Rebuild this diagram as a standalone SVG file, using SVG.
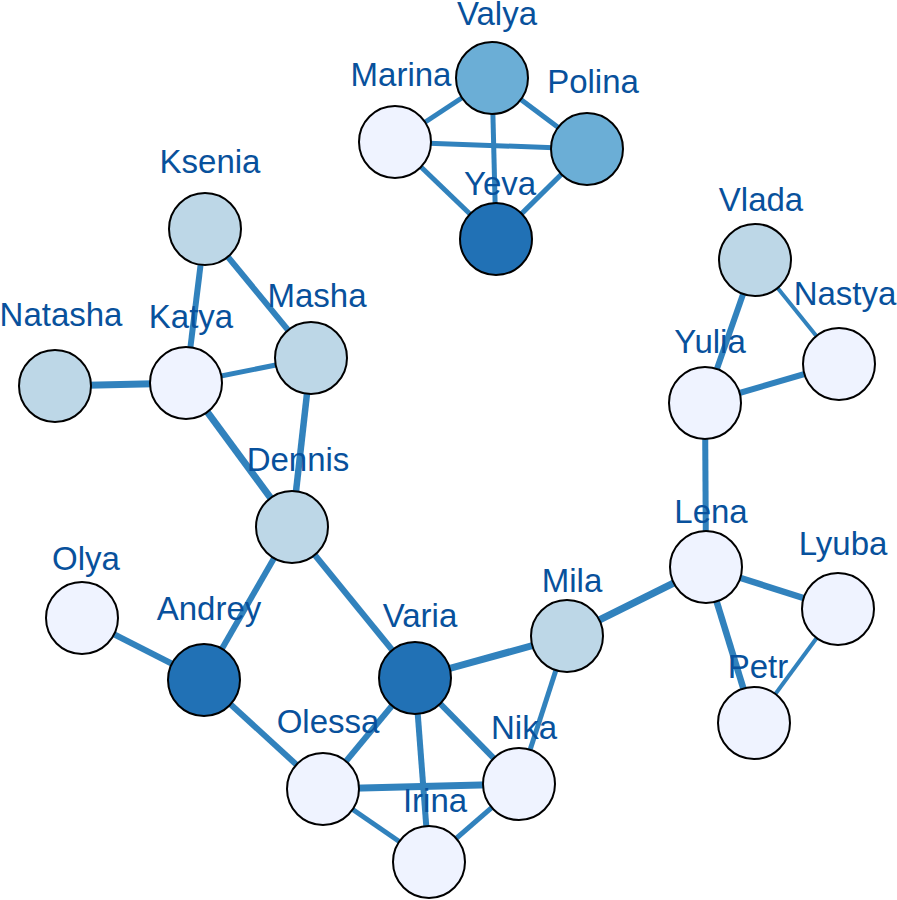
<svg xmlns="http://www.w3.org/2000/svg" width="897" height="900" viewBox="0 0 897 900">
<style>
.e{stroke:#3182bd;stroke-linecap:butt;fill:none}
.n{stroke:#000;stroke-width:2}
.c1{fill:#eff3ff}.c2{fill:#bdd7e7}.c3{fill:#6baed6}.c4{fill:#2171b5}
.l{font-family:"Liberation Sans",Arial,sans-serif;font-size:33px;fill:#08519c;text-anchor:middle}
</style>
<rect width="897" height="900" fill="#fff"/>
<g id="edges">
<line class="e" stroke-width="5" x1="492" y1="78" x2="395" y2="142"/>
<line class="e" stroke-width="5" x1="492" y1="78" x2="587" y2="149"/>
<line class="e" stroke-width="5" x1="492" y1="78" x2="496" y2="239"/>
<line class="e" stroke-width="5" x1="395" y1="142" x2="587" y2="149"/>
<line class="e" stroke-width="5" x1="395" y1="142" x2="496" y2="239"/>
<line class="e" stroke-width="5" x1="587" y1="149" x2="496" y2="239"/>
<line class="e" stroke-width="6" x1="205" y1="229" x2="186" y2="383"/>
<line class="e" stroke-width="6" x1="205" y1="229" x2="311" y2="358"/>
<line class="e" stroke-width="5" x1="186" y1="383" x2="311" y2="358"/>
<line class="e" stroke-width="7" x1="55" y1="386" x2="186" y2="383"/>
<line class="e" stroke-width="7" x1="186" y1="383" x2="292" y2="527"/>
<line class="e" stroke-width="6.5" x1="311" y1="358" x2="292" y2="527"/>
<line class="e" stroke-width="6" x1="292" y1="527" x2="204" y2="680"/>
<line class="e" stroke-width="6" x1="292" y1="527" x2="415" y2="678"/>
<line class="e" stroke-width="6" x1="82" y1="618" x2="204" y2="680"/>
<line class="e" stroke-width="6" x1="204" y1="680" x2="323" y2="789"/>
<line class="e" stroke-width="7" x1="415" y1="678" x2="567" y2="636"/>
<line class="e" stroke-width="6" x1="415" y1="678" x2="323" y2="789"/>
<line class="e" stroke-width="6" x1="415" y1="678" x2="429" y2="862"/>
<line class="e" stroke-width="6" x1="415" y1="678" x2="519" y2="784"/>
<line class="e" stroke-width="7" x1="323" y1="789" x2="519" y2="784"/>
<line class="e" stroke-width="5" x1="323" y1="789" x2="429" y2="862"/>
<line class="e" stroke-width="5" x1="429" y1="862" x2="519" y2="784"/>
<line class="e" stroke-width="5" x1="567" y1="636" x2="519" y2="784"/>
<line class="e" stroke-width="7" x1="567" y1="636" x2="706" y2="567"/>
<line class="e" stroke-width="6" x1="755" y1="260" x2="705" y2="403"/>
<line class="e" stroke-width="4" x1="755" y1="260" x2="839" y2="364"/>
<line class="e" stroke-width="6" x1="705" y1="403" x2="839" y2="364"/>
<line class="e" stroke-width="6" x1="705" y1="403" x2="706" y2="567"/>
<line class="e" stroke-width="6.5" x1="706" y1="567" x2="838" y2="609"/>
<line class="e" stroke-width="6.5" x1="706" y1="567" x2="754" y2="723"/>
<line class="e" stroke-width="4" x1="838" y1="609" x2="754" y2="723"/>
</g>
<g id="Valya"><circle class="n c3" cx="492" cy="78" r="36"/></g>
<g id="Marina"><circle class="n c1" cx="395" cy="142" r="36"/></g>
<g id="Polina"><circle class="n c3" cx="587" cy="149" r="36"/></g>
<g id="Yeva"><circle class="n c4" cx="496" cy="239" r="36"/></g>
<g id="Ksenia"><circle class="n c2" cx="205" cy="229" r="36"/></g>
<g id="Masha"><circle class="n c2" cx="311" cy="358" r="36"/></g>
<g id="Katya"><circle class="n c1" cx="186" cy="383" r="36"/></g>
<g id="Natasha"><circle class="n c2" cx="55" cy="386" r="36"/></g>
<g id="Dennis"><circle class="n c2" cx="292" cy="527" r="36"/></g>
<g id="Olya"><circle class="n c1" cx="82" cy="618" r="36"/></g>
<g id="Andrey"><circle class="n c4" cx="204" cy="680" r="36"/></g>
<g id="Varia"><circle class="n c4" cx="415" cy="678" r="36"/></g>
<g id="Mila"><circle class="n c2" cx="567" cy="636" r="36"/></g>
<g id="Olessa"><circle class="n c1" cx="323" cy="789" r="36"/></g>
<g id="Irina"><circle class="n c1" cx="429" cy="862" r="36"/></g>
<g id="Nika"><circle class="n c1" cx="519" cy="784" r="36"/></g>
<g id="Vlada"><circle class="n c2" cx="755" cy="260" r="36"/></g>
<g id="Nastya"><circle class="n c1" cx="839" cy="364" r="36"/></g>
<g id="Yulia"><circle class="n c1" cx="705" cy="403" r="36"/></g>
<g id="Lena"><circle class="n c1" cx="706" cy="567" r="36"/></g>
<g id="Lyuba"><circle class="n c1" cx="838" cy="609" r="36"/></g>
<g id="Petr"><circle class="n c1" cx="754" cy="723" r="36"/></g>
<g id="labels">
<text class="l" x="497" y="25">Valya</text>
<text class="l" x="401" y="86">Marina</text>
<text class="l" x="593" y="93">Polina</text>
<text class="l" x="500" y="195">Yeva</text>
<text class="l" x="210" y="173">Ksenia</text>
<text class="l" x="317" y="307">Masha</text>
<text class="l" x="191" y="328">Katya</text>
<text class="l" x="61" y="326">Natasha</text>
<text class="l" x="298" y="471">Dennis</text>
<text class="l" x="86" y="570">Olya</text>
<text class="l" x="209" y="620">Andrey</text>
<text class="l" x="420" y="627">Varia</text>
<text class="l" x="572" y="592">Mila</text>
<text class="l" x="328" y="733">Olessa</text>
<text class="l" x="435" y="812">Irina</text>
<text class="l" x="524" y="739">Nika</text>
<text class="l" x="761" y="211">Vlada</text>
<text class="l" x="845" y="305">Nastya</text>
<text class="l" x="710" y="353">Yulia</text>
<text class="l" x="711" y="523">Lena</text>
<text class="l" x="843" y="555">Lyuba</text>
<text class="l" x="758" y="678">Petr</text>
</g>
</svg>
